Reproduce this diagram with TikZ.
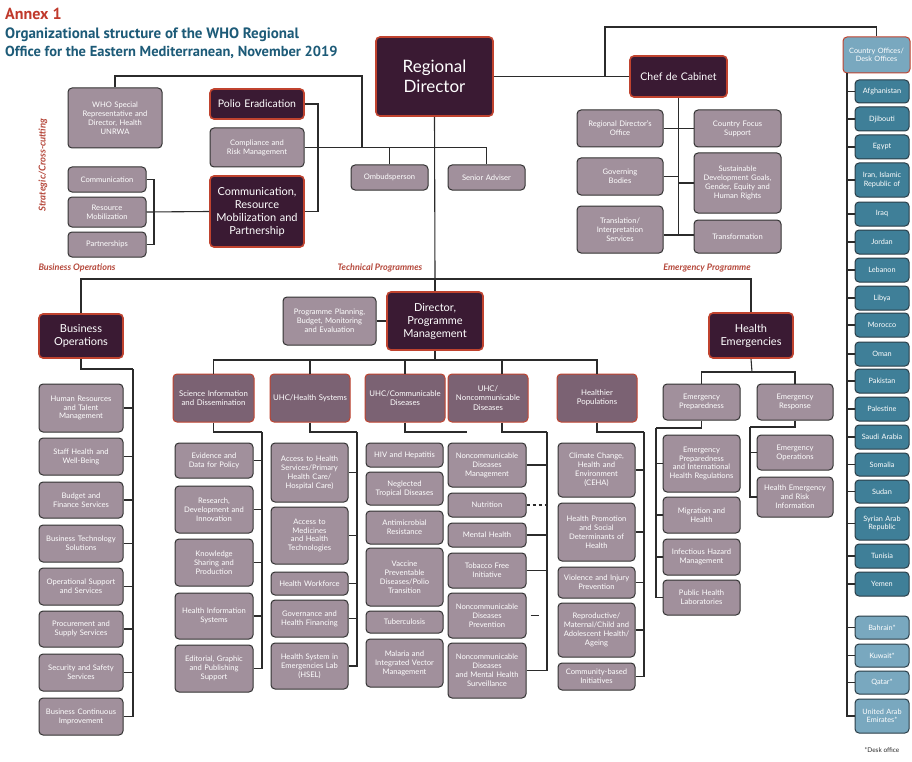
\documentclass[tikz,border=0pt]{standalone}
\usepackage{fontspec}
\setmainfont{Lato}
\newfontfamily\titlefont{PT Sans}
\definecolor{lfill}{HTML}{A1909C}
\definecolor{lline}{HTML}{333333}
\definecolor{mfill}{HTML}{7B6273}
\definecolor{dfill}{HTML}{3A1A33}
\definecolor{redline}{HTML}{C0432F}
\definecolor{cfill}{HTML}{3F7F98}
\definecolor{cline}{HTML}{2A3D47}
\definecolor{kfill}{HTML}{79A8BF}
\definecolor{connc}{HTML}{2B2B2B}
\definecolor{annexc}{HTML}{C0392B}
\definecolor{titlec}{HTML}{1D5B78}
\definecolor{secc}{HTML}{B5473A}
\newcommand\bx[7]{%
  \pgfmathsetmacro\bxw{#5-#3}\pgfmathsetmacro\bxh{#6-#4}%
  \pgfmathsetmacro\bxt{#5-#3-4}%
  \pgfmathsetmacro\bxcx{(#3+#5)/2}\pgfmathsetmacro\bxcy{(#4+#6)/2}%
  \node[#1, minimum width=\bxw pt, minimum height=\bxh pt, text width=\bxt pt] (#2) at (\bxcx,\bxcy) {#7};}
\tikzset{
  base/.style={rounded corners=4pt, align=center, inner sep=0pt, text=white, line width=1pt},
  lbox/.style={base, fill=lfill, draw=lline, font=\fontsize{7.6}{8.9}\selectfont},
  mbox/.style={base, fill=mfill, draw=redline, font=\fontsize{7.8}{9.2}\selectfont},
  dbox/.style={base, fill=dfill, draw=redline, line width=1.6pt, font=\fontsize{10.5}{12.5}\selectfont},
  cbox/.style={base, fill=cfill, draw=cline, font=\fontsize{7.3}{8.5}\selectfont},
  kbox/.style={cbox, fill=kfill},
  hbox/.style={cbox, fill=kfill, draw=redline},
  conn/.style={draw=connc, line width=1.1pt},
  sect/.style={text=secc, font=\bfseries\itshape\fontsize{9}{10}\selectfont, inner sep=0pt},
}
\begin{document}
\begin{tikzpicture}[x=1pt,y=-1pt]
\useasboundingbox (0,0) rectangle (912,762);
\fill[white] (0,0) rectangle (912,762);
% title
\node[anchor=base west, inner sep=0pt, text=annexc, font=\titlefont\bfseries\fontsize{16}{18}\selectfont] (annex) at (5,20) {Annex 1};
\node[anchor=base west, inner sep=0pt, text=titlec, font=\titlefont\bfseries\fontsize{15}{17}\selectfont] (t1) at (5,39) {Organizational structure of the WHO Regional};
\node[anchor=base west, inner sep=0pt, text=titlec, font=\titlefont\bfseries\fontsize{14.5}{17}\selectfont] (t2) at (5,57) {Office for the Eastern Mediterranean, November 2019};
% top level
\bx{dbox,font=\fontsize{17}{20}\selectfont}{rd}{376}{37}{493}{116}{Regional\\Director}
\bx{dbox}{chef}{630}{56}{727}{97}{Chef de Cabinet}
\bx{hbox}{co}{843}{37}{910}{73}{Country Offices/\\Desk Offices}
\bx{lbox}{who}{68}{88}{162}{148}{WHO Special\\Representative and\\Director, Health\\UNRWA}
\bx{dbox}{polio}{210}{89}{304}{119}{Polio Eradication}
\bx{lbox}{comp}{210}{128}{304}{167}{Compliance and\\Risk Management}
\bx{dbox,font=\fontsize{11}{13}\selectfont}{crmp}{210}{176}{304}{247}{Communication,\\Resource\\Mobilization and\\Partnership}
\bx{lbox}{comm}{68}{167}{146}{192}{Communication}
\bx{lbox}{resm}{68}{197}{146}{227}{Resource\\Mobilization}
\bx{lbox}{part}{68}{232}{146}{257}{Partnerships}
\bx{lbox}{omb}{351}{165}{428}{190}{Ombudsperson}
\bx{lbox}{sen}{448}{165}{525}{190}{Senior Adviser}
\bx{lbox}{rdo}{577}{110}{663}{147}{Regional Director's\\Office}
\bx{lbox}{gov}{577}{158}{663}{195}{Governing\\Bodies}
\bx{lbox}{tis}{577}{206}{663}{253}{Translation/\\Interpretation\\Services}
\bx{lbox}{cfs}{694}{110}{781}{147}{Country Focus\\Support}
\bx{lbox}{sdg}{694}{153}{781}{213}{Sustainable\\Development Goals,\\Gender, Equity and\\Human Rights}
\bx{lbox}{trf}{694}{220}{781}{253}{Transformation}
% section labels
\node[rotate=90, sect, font=\bfseries\itshape\fontsize{9.5}{10}\selectfont] (scc) at (43,165) {Strategic/Cross-cutting};
\node[sect, anchor=base] (lbo) at (77,270) {Business Operations};
\node[sect, anchor=base] (ltp) at (380,270) {Technical Programmes};
\node[sect, anchor=base] (lep) at (707,270) {Emergency Programme};
% top connectors
\coordinate (lt) at (362,76);
\coordinate (cotop) at (605,27);
\coordinate (pbx) at (318,150);
\coordinate (cb) at (154,212);
\coordinate (chj) at (678.5,235);
\coordinate (bar) at (435,279);
\draw[conn] (who.north) |- (lt) -- (lt |- comp.east);
\draw[conn] (comp.east) -| (sen.north);
\draw[conn] (omb.north) -- (omb.north |- comp.east);
\draw[conn] (rd.east) -- (chef.west);
\draw[conn] (cotop |- rd.east) -- (cotop) -| (co.north);
\draw[conn] (polio.east) -| (pbx) |- (crmp.east);
\draw[conn] (comm.east) -| (cb);
\draw[conn] (part.east) -| (cb);
\draw[conn] (resm.east) -- (crmp.west);
\draw[conn] (chef.south) -- (chj);
\draw[conn] (rdo.east) -| (chj);
\draw[conn] (gov.east) -| (chj);
\draw[conn] (cfs.west) -| (chj);
\draw[conn] (sdg.west) -| (chj);
\draw[conn] (tis.east |- chj) -- (trf.west |- chj);
% second level
\bx{dbox,font=\fontsize{11}{13}\selectfont}{bo}{39}{314}{123}{358}{Business\\Operations}
\bx{lbox}{ppb}{283}{297}{376}{345}{Programme Planning,\\Budget, Monitoring\\and Evaluation}
\bx{dbox,font=\fontsize{11}{13}\selectfont}{dpm}{387}{292}{483}{350}{Director,\\Programme\\Management}
\bx{dbox,font=\fontsize{11}{13}\selectfont}{he}{709}{313}{793}{358}{Health\\Emergencies}
\draw[conn] (rd.south) -- (bar);
\draw[conn] (bo.north) |- (bar) -| (he.north);
\draw[conn] (bar) -- (dpm.north);
\draw[conn] (ppb.east) -- (dpm.west);
% programme areas
\bx{mbox}{si}{173}{374}{254}{422}{Science Information\\and Dissemination}
\bx{mbox}{hs}{270}{374}{350}{422}{UHC/Health Systems}
\bx{mbox}{cd}{365}{374}{445}{422}{UHC/Communicable\\Diseases}
\bx{mbox}{ncd}{448}{374}{528}{422}{UHC/\\Noncommunicable\\Diseases}
\bx{mbox}{hp}{557}{374}{637}{422}{Healthier\\Populations}
\coordinate (tb) at (435,360);
\draw[conn] (dpm.south) -- (tb);
\draw[conn] (tb) -| (si.north);
\draw[conn] (tb) -| (hs.north);
\draw[conn] (tb) -| (cd.north);
\draw[conn] (tb) -| ([xshift=14pt]ncd.north);
\draw[conn] (tb) -| (hp.north);
% Business Operations children
\bx{lbox}{hr}{39}{384}{123}{432}{Human Resources\\and Talent\\Management}
\bx{lbox}{shw}{39}{438}{123}{475}{Staff Health and\\Well-Being}
\bx{lbox}{bfs}{39}{482}{123}{518}{Budget and\\Finance Services}
\bx{lbox}{bts}{39}{525}{123}{562}{Business Technology\\Solutions}
\bx{lbox}{oss}{39}{568}{123}{605}{Operational Support\\and Services}
\bx{lbox}{pss}{39}{611}{123}{647}{Procurement and\\Supply Services}
\bx{lbox}{sss}{39}{654}{123}{691}{Security and Safety\\Services}
\bx{lbox}{bci}{39}{698}{123}{735}{Business Continuous\\Improvement}
\coordinate (boj) at (133,369);
\draw[conn] (bo.south) |- (boj);
\foreach \n in {hr,shw,bfs,bts,oss,pss,sss,bci}{\draw[conn] (\n.east) -| (boj);}
% Science children
\bx{lbox}{ev}{175}{443}{253}{478}{Evidence and\\Data for Policy}
\bx{lbox}{rdi}{175}{486}{253}{533}{Research,\\Development and\\Innovation}
\bx{lbox}{ksp}{175}{539}{253}{586}{Knowledge\\Sharing and\\Production}
\bx{lbox}{his}{175}{593}{253}{639}{Health Information\\Systems}
\bx{lbox}{egp}{175}{645}{253}{692}{Editorial, Graphic\\and Publishing\\Support}
\coordinate (sij) at (262,432);
\draw[conn] (si.south) |- (sij);
\foreach \n in {ev,rdi,ksp,his,egp}{\draw[conn] (\n.east) -| (sij);}
% Health systems children
\bx{lbox}{ahs}{271}{443}{348}{502}{Access to Health\\Services/Primary\\Health Care/\\Hospital Care)}
\bx{lbox}{amt}{271}{507}{348}{564}{Access to\\Medicines\\and Health\\Technologies}
\bx{lbox}{hw}{271}{572}{348}{595}{Health Workforce}
\bx{lbox}{ghf}{271}{600}{348}{637}{Governance and\\Health Financing}
\bx{lbox}{hsel}{271}{643}{348}{689}{Health System in\\Emergencies Lab\\(HSEL)}
\coordinate (hsj) at (357,432);
\draw[conn] (hs.south) |- (hsj);
\foreach \n in {ahs,amt,hw,ghf,hsel}{\draw[conn] (\n.east) -| (hsj);}
% Communicable diseases children
\bx{lbox}{hiv}{366}{443}{443}{467}{HIV and Hepatitis}
\bx{lbox}{ntd}{366}{472}{443}{505}{Neglected\\Tropical Diseases}
\bx{lbox}{amr}{366}{511}{443}{544}{Antimicrobial\\Resistance}
\bx{lbox}{vpd}{366}{548}{443}{606}{Vaccine\\Preventable\\Diseases/Polio\\Transition}
\bx{lbox}{tbc}{366}{611}{443}{633}{Tuberculosis}
\bx{lbox}{mal}{366}{639}{443}{687}{Malaria and\\Integrated Vector\\Management}
\coordinate (cdj) at (467,432);
\draw[conn] (cd.south) |- (cdj);
% Noncommunicable children
\bx{lbox}{ncdm}{448}{443}{526}{487}{Noncommunicable\\Diseases\\Management}
\bx{lbox}{nut}{448}{493}{526}{517}{Nutrition}
\bx{lbox}{mh}{448}{523}{526}{547}{Mental Health}
\bx{lbox}{tfi}{448}{553}{526}{588}{Tobacco Free\\Initiative}
\bx{lbox}{ncdp}{448}{593}{526}{638}{Noncommunicable\\Diseases\\Prevention}
\bx{lbox}{ncds}{448}{643}{526}{698}{Noncommunicable\\Diseases\\and Mental Health\\Surveillance}
\coordinate (ncdj) at (547,432);
\draw[conn] ([xshift=14pt]ncd.south) |- (ncdj);
\draw[conn] (ncdj) -- (ncdj |- ncds.east);
\foreach \n in {ncdm,mh,tfi,ncds}{\draw[conn] (\n.east) -- (\n.east -| ncdj);}
\draw[conn, dashed] (nut.east) -- (nut.east -| ncdj);
\draw[conn] ([xshift=4pt]ncdp.east) -- ([xshift=12pt]ncdp.east);
% Healthier populations children
\bx{lbox}{cc}{558}{443}{635}{497}{Climate Change,\\Health and\\Environment\\(CEHA)}
\bx{lbox}{hpsd}{558}{503}{635}{561}{Health Promotion\\and Social\\Determinants of\\Health}
\bx{lbox}{vip}{558}{567}{635}{598}{Violence and Injury\\Prevention}
\bx{lbox}{rmc}{558}{603}{635}{657}{Reproductive/\\Maternal/Child and\\Adolescent Health/\\Ageing}
\bx{lbox}{cbi}{558}{663}{635}{690}{Community-based\\Initiatives}
\coordinate (hpj) at (644,432);
\draw[conn] (hp.south) |- (hpj);
\foreach \n in {cc,hpsd,vip,rmc,cbi}{\draw[conn] (\n.east) -| (hpj);}
% Health emergencies
\bx{lbox}{ep}{663}{384}{740}{420}{Emergency\\Preparedness}
\bx{lbox}{er}{757}{384}{833}{420}{Emergency\\Response}
\coordinate (hej) at (752,372);
\draw[conn] (he.south) -- (hej);
\draw[conn] (ep.north) |- (hej);
\draw[conn] (er.north) |- (hej);
\bx{lbox}{epihr}{663}{435}{740}{492}{Emergency\\Preparedness\\and International\\Health Regulations}
\bx{lbox}{mig}{663}{497}{740}{533}{Migration and\\Health}
\bx{lbox}{ihm}{663}{539}{740}{575}{Infectious Hazard\\Management}
\bx{lbox}{phl}{663}{580}{740}{615}{Public Health\\Laboratories}
\coordinate (epj) at (656,428);
\draw[conn] (ep.south) |- (epj);
\foreach \n in {epihr,mig,ihm,phl}{\draw[conn] (\n.west) -| (epj);}
\bx{lbox}{eo}{757}{435}{833}{470}{Emergency\\Operations}
\bx{lbox}{heri}{757}{477}{833}{517}{Health Emergency\\and Risk\\Information}
\coordinate (erj) at (750,427);
\draw[conn] (er.south) |- (erj);
\foreach \n in {eo,heri}{\draw[conn] (\n.west) -| (erj);}
% countries
\bx{cbox}{afg}{855}{80}{909}{103}{Afghanistan}
\bx{cbox}{dji}{855}{107}{909}{131}{Djibouti}
\bx{cbox}{egy}{855}{135}{909}{159}{Egypt}
\bx{cbox}{irn}{855}{163}{909}{197}{Iran, Islamic\\Republic of}
\bx{cbox}{irq}{855}{202}{909}{226}{Iraq}
\bx{cbox}{jor}{855}{230}{909}{254}{Jordan}
\bx{cbox}{leb}{855}{258}{909}{282}{Lebanon}
\bx{cbox}{lby}{855}{286}{909}{310}{Libya}
\bx{cbox}{mor}{855}{313}{909}{337}{Morocco}
\bx{cbox}{oma}{855}{342}{909}{366}{Oman}
\bx{cbox}{pak}{855}{369}{909}{393}{Pakistan}
\bx{cbox}{pal}{855}{397}{909}{421}{Palestine}
\bx{cbox}{sau}{855}{425}{909}{449}{Saudi Arabia}
\bx{cbox}{som}{855}{453}{909}{476}{Somalia}
\bx{cbox}{sud}{855}{480}{909}{503}{Sudan}
\bx{cbox}{syr}{855}{507}{909}{540}{Syrian Arab\\Republic}
\bx{cbox}{tun}{855}{544}{909}{568}{Tunisia}
\bx{cbox}{yem}{855}{572}{909}{596}{Yemen}
\bx{kbox}{bah}{855}{616}{909}{639}{Bahrain*}
\bx{kbox}{kuw}{855}{644}{909}{667}{Kuwait*}
\bx{kbox}{qat}{855}{671}{909}{694}{Qatar*}
\bx{kbox}{uae}{855}{699}{909}{733}{United Arab\\Emirates*}
\coordinate (coj) at (847,73);
\foreach \n in {afg,dji,egy,irn,irq,jor,leb,lby,mor,oma,pak,pal,sau,som,sud,syr,tun,yem,bah,kuw,qat,uae}{\draw[conn] (\n.west) -| (coj);}
\node[anchor=base, inner sep=0pt, text=connc, font=\fontsize{6.5}{7.5}\selectfont] (desk) at (882,752) {*Desk office};
\end{tikzpicture}
\end{document}
